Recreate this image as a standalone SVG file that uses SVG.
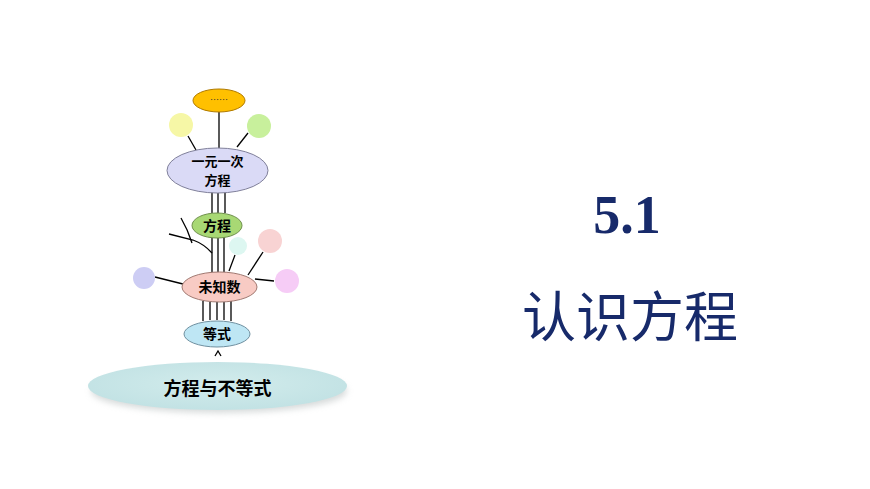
<svg xmlns="http://www.w3.org/2000/svg" width="870" height="489" viewBox="0 0 870 489">
<defs>
<radialGradient id="gBase" cx="50%" cy="45%" r="55%">
<stop offset="0" stop-color="#D2ECEC"/>
<stop offset="1" stop-color="#C2E2E4"/>
</radialGradient>
<filter id="blur" x="-20%" y="-50%" width="140%" height="200%"><feGaussianBlur stdDeviation="3"/></filter>
</defs>
<style>
.ln{stroke:#000;stroke-width:1.3;fill:none}
.nt{font-family:"Noto Sans CJK SC","Noto Sans CJK JP",sans-serif;font-weight:bold;font-size:14px;fill:#000;text-anchor:middle}
.dot{stroke:none}
</style>
<rect width="870" height="489" fill="#fff"/>
<g id="connectors">
<line class="ln" x1="219" y1="112" x2="219" y2="148"/>
<line class="ln" x1="188" y1="136" x2="196" y2="150"/>
<line class="ln" x1="248" y1="133" x2="237" y2="147"/>
<line class="ln" x1="212" y1="192" x2="212" y2="213"/>
<line class="ln" x1="218" y1="193" x2="218" y2="213"/>
<line class="ln" x1="225" y1="192" x2="225" y2="213"/>
<line class="ln" x1="212" y1="237" x2="212" y2="273"/>
<line class="ln" x1="218" y1="238" x2="218" y2="272"/>
<line class="ln" x1="224" y1="237" x2="224" y2="272"/>
<path class="ln" d="M181 218 Q188 230 192 243"/>
<path class="ln" d="M169 234 L193 240 Q204 244 212 253"/>
<line class="ln" x1="235" y1="255" x2="229" y2="271"/>
<line class="ln" x1="263" y1="252" x2="248" y2="275"/>
<line class="ln" x1="274" y1="281" x2="255" y2="279"/>
<line class="ln" x1="155" y1="277" x2="183" y2="284"/>
<line class="ln" x1="203" y1="301" x2="203" y2="321"/>
<line class="ln" x1="210" y1="302" x2="210" y2="320"/>
<line class="ln" x1="217" y1="302" x2="217" y2="320"/>
<line class="ln" x1="224" y1="302" x2="224" y2="320"/>
<line class="ln" x1="231" y1="301" x2="231" y2="321"/>
<path class="ln" d="M215 356 L218 351 L221 356"/>
</g>
<g id="deco-circles">
<circle class="dot" cx="181" cy="125" r="12" fill="#F6F7A6"/>
<circle class="dot" cx="259" cy="126" r="12" fill="#C8F09C"/>
<circle class="dot" cx="238" cy="246" r="9" fill="#DDF7F1"/>
<circle class="dot" cx="270" cy="241" r="12" fill="#F8D3D3"/>
<circle class="dot" cx="287" cy="281" r="12" fill="#F6CCF6"/>
<circle class="dot" cx="144" cy="278" r="11" fill="#CDCDF4"/>
</g>
<g id="node-dots">
<ellipse cx="219" cy="100.5" rx="26" ry="11.5" fill="#FFC000" stroke="#B07A00" stroke-width="1"/>
<text class="nt" x="219" y="103" style="font-size:9px;font-weight:normal;fill:#333">……</text>
</g>
<g id="node-yiyuanyici">
<ellipse cx="217.5" cy="170.5" rx="50.5" ry="22.5" fill="#DADAF6" stroke="#80809A" stroke-width="1"/>
<text class="nt" x="217.5" y="166" style="font-size:13px">一元一次</text>
<text class="nt" x="217.5" y="185" style="font-size:13px">方程</text>
</g>
<g id="node-fangcheng">
<ellipse cx="217" cy="225.5" rx="25" ry="12.5" fill="#A8D874" stroke="#6E8F4A" stroke-width="1"/>
<text class="nt" x="217" y="230.5">方程</text>
</g>
<g id="node-weizhishu">
<ellipse cx="219.5" cy="287" rx="37.5" ry="15" fill="#F8CBC4" stroke="#A07870" stroke-width="1"/>
<text class="nt" x="219.5" y="292">未知数</text>
</g>
<g id="node-dengshi">
<ellipse cx="217" cy="334" rx="33" ry="13" fill="#BEE6F4" stroke="#7090A0" stroke-width="1"/>
<text class="nt" x="217" y="339">等式</text>
</g>
<g id="node-base">
<ellipse cx="219" cy="391" rx="128" ry="22" fill="#B0B8B8" opacity="0.5" filter="url(#blur)"/>
<ellipse cx="217.5" cy="386" rx="129.5" ry="24" fill="url(#gBase)"/>
<text class="nt" x="217.5" y="394.5" style="font-size:18px">方程与不等式</text>
</g>
<g id="title">
<text x="627" y="233" text-anchor="middle" font-family="'Liberation Serif',serif" font-weight="bold" font-size="54" fill="#172A6A">5.1</text>
<text x="630" y="337" text-anchor="middle" font-family="'Noto Sans CJK SC','Noto Sans CJK JP',sans-serif" font-size="54" fill="#172A6A">认识方程</text>
</g>
</svg>
